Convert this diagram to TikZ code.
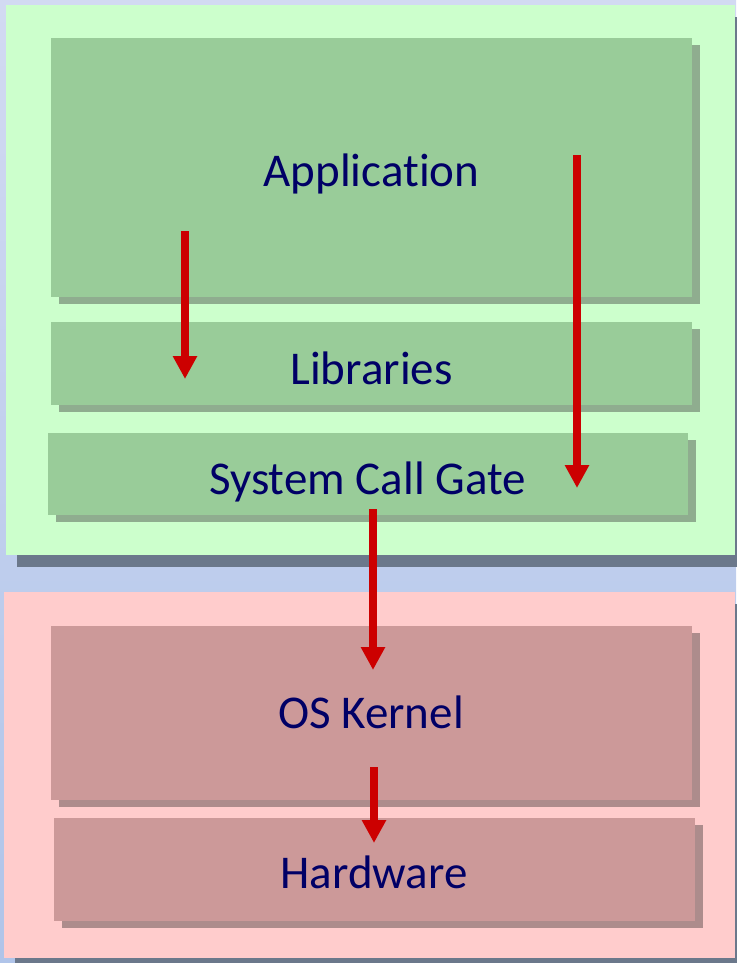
\documentclass[tikz,border=0pt]{standalone}
\usepackage{fontspec}
\setmainfont{Carlito}[RawFeature={-liga;-clig;-calt;-dlig}]
\usetikzlibrary{arrows.meta,shadows}
\definecolor{bgtop}{HTML}{D2DAF2}
\definecolor{bgbot}{HTML}{B0C4E9}
\definecolor{userbg}{HTML}{CCFFCC}
\definecolor{userbox}{HTML}{99CC99}
\definecolor{usershadow}{HTML}{8FAD8F}
\definecolor{kernbg}{HTML}{FFCCCC}
\definecolor{kernbox}{HTML}{CC9999}
\definecolor{kernshadow}{HTML}{AD8C8C}
\definecolor{panelshadow}{HTML}{6B788B}
\definecolor{navytext}{HTML}{000066}
\definecolor{arrowred}{HTML}{CC0000}
\tikzset{
  panelbox/.style={rectangle, inner sep=0pt, draw=none,
    general shadow={fill=panelshadow, shadow xshift=11pt, shadow yshift=-12pt}},
  userlayer/.style={rectangle, inner sep=0pt, draw=none, fill=userbox,
    general shadow={fill=usershadow, shadow xshift=8pt, shadow yshift=-7pt}},
  kernlayer/.style={rectangle, inner sep=0pt, draw=none, fill=kernbox,
    general shadow={fill=kernshadow, shadow xshift=8pt, shadow yshift=-7pt}},
  layertext/.style={anchor=base, inner sep=0pt, text=navytext,
    font=\fontsize{47}{56}\selectfont},
  callarrow/.style={draw=arrowred, line width=8pt,
    -{Triangle[width=23pt,length=23pt]}}
}
\begin{document}
\begin{tikzpicture}[x=1pt,y=-1pt]
\useasboundingbox (0,0) rectangle (736,963);
\shade[top color=bgtop, bottom color=bgbot] (0,0) rectangle (736,963);
% panels
\node[panelbox, fill=userbg, minimum width=729pt, minimum height=550pt] (userpanel) at (370.5,280) {};
\node[panelbox, fill=kernbg, minimum width=731pt, minimum height=366pt] (kernpanel) at (369.5,775) {};
% user layers
\node[userlayer, minimum width=641pt, minimum height=259pt] (app) at (371.5,167.5) {};
\node[userlayer, minimum width=641pt, minimum height=83pt] (lib) at (371.5,363.5) {};
\node[userlayer, minimum width=640pt, minimum height=82pt] (gate) at (368,474) {};
% kernel layers
\node[kernlayer, minimum width=641pt, minimum height=174pt] (kernel) at (371.5,713) {};
\node[kernlayer, minimum width=641pt, minimum height=103pt] (hw) at (374.5,869.5) {};
% texts
\node[layertext] (apptext) at (371.5,186) {Applicat\kern0pt ion};
\node[layertext] (libtext) at (371.5,384) {Libraries};
\node[layertext] (gatetext) at (367.5,494) {System Call Gate};
\node[layertext] (kerntext) at (371,728) {OS Kernel};
\node[layertext] (hwtext) at (374,888) {Hardware};
% arrows
\coordinate (a1s) at (185,231); \coordinate (a1e) at (185,379);
\coordinate (a2s) at (577,155); \coordinate (a2e) at (577,488);
\coordinate (a3s) at (373,509); \coordinate (a3e) at (373,670);
\coordinate (a4s) at (374,767); \coordinate (a4e) at (374,843);
\draw[callarrow] (a1s) -- (a1e);
\draw[callarrow] (a2s) -- (a2e);
\draw[callarrow] (a3s) -- (a3e);
\draw[callarrow] (a4s) -- (a4e);
\end{tikzpicture}
\end{document}
